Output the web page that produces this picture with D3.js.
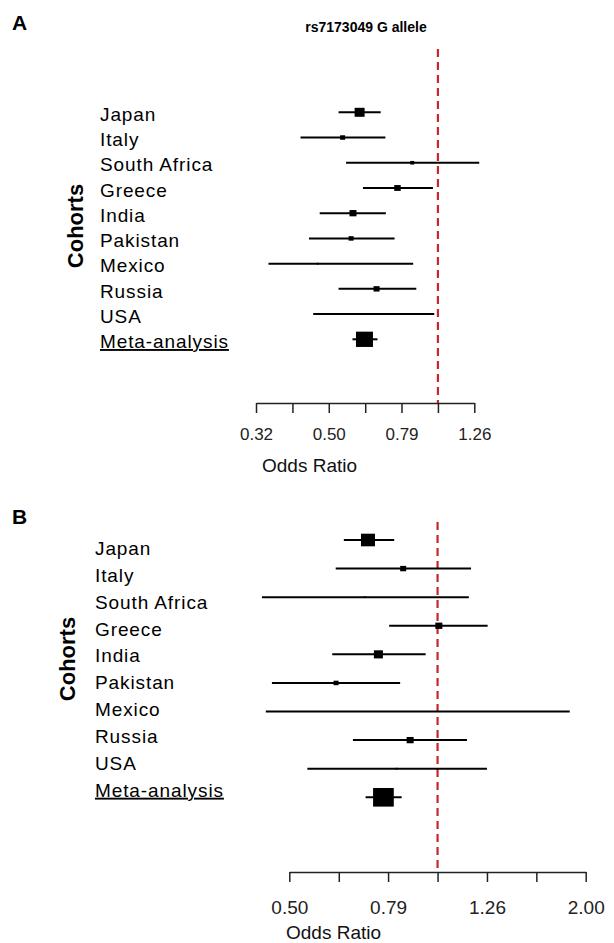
<!DOCTYPE html>
<html>
<head>
<meta charset="utf-8">
<script src="https://cdn.jsdelivr.net/npm/d3@7"></script>
<style>
  body { margin: 0; background: #fff; }
  text { font-family: "Liberation Sans", Arial, sans-serif; }
</style>
</head>
<body>
<div id="root"></div>
<script>
const cohorts = ["Japan", "Italy", "South Africa", "Greece", "India", "Pakistan", "Mexico", "Russia", "USA", "Meta-analysis"];

// panel A: rs7173049 G allele
const orA = [0.609, 0.547, 0.850, 0.774, 0.584, 0.577, 0.467, 0.678, 0.667, 0.628];
const lowerA = [0.533, 0.419, 0.559, 0.622, 0.473, 0.442, 0.342, 0.533, 0.454, 0.582];
const upperA = [0.696, 0.717, 1.299, 0.969, 0.719, 0.760, 0.855, 0.872, 0.977, 0.682];
const weightA = [10, 5, 4, 6.5, 7, 5, 2, 6, 2, 17];
const tickValuesA = [0.316, 0.398, 0.501, 0.631, 0.794, 1, 1.259];
const tickLabelsA = ["0.32", "", "0.50", "", "0.79", "", "1.26"];

// panel B
const orB = [0.723, 0.852, 0.712, 1.006, 0.759, 0.623, 0.912, 0.880, 0.826, 0.777];
const lowerB = [0.646, 0.622, 0.441, 0.798, 0.612, 0.462, 0.449, 0.674, 0.545, 0.715];
const upperB = [0.817, 1.169, 1.157, 1.263, 0.946, 0.840, 1.852, 1.147, 1.259, 0.846];
const weightB = [14, 6, 2, 7, 9, 5, 0, 7, 2, 20.7];
const tickValuesB = [0.501, 0.631, 0.794, 1, 1.259, 1.585, 1.995];
const tickLabelsB = ["0.50", "", "0.79", "", "1.26", "", "2.00"];

class ForestPlot {
  constructor(svg, opts) {
    this.svg = svg;
    this.o = opts;
  }

  initialize() {
    const o = this.o;
    this.rows = cohorts.map((c, i) => ({
      name: c, or: o.or[i], lo: o.lower[i], hi: o.upper[i], w: o.weight[i]
    }));
    this.x = d3.scaleLog()
      .domain([o.tickValues[0], o.tickValues[o.tickValues.length - 1]])
      .range(o.xRange);
    this.y = d3.scalePoint().domain(cohorts).range(o.rowRange);
    this.labelY = d3.scalePoint().domain(cohorts).range(o.labelRange);
    this.g = this.svg.append("g");
  }

  drawText() {
    const o = this.o;
    this.g.append("text")
      .attr("x", 12).attr("y", o.letterY)
      .attr("font-size", 21).attr("font-weight", "bold")
      .text(o.letter);

    this.g.append("text")
      .attr("transform", `translate(${o.cohortsX},${o.cohortsY}) rotate(-90)`)
      .attr("text-anchor", "middle")
      .attr("font-size", 22).attr("font-weight", "bold")
      .text("Cohorts");

    this.g.selectAll(".lab")
      .data(this.rows)
      .enter()
      .append("text")
      .attr("class", "lab")
      .attr("x", o.labelX)
      .attr("y", d => this.labelY(d.name))
      .attr("font-size", 19)
      .attr("letter-spacing", "0.9px")
      .attr("text-decoration", d => d.name === "Meta-analysis" ? "underline" : null)
      .text(d => d.name);
  }

  drawRefLine() {
    const o = this.o;
    this.g.append("line")
      .attr("x1", this.x(1)).attr("x2", this.x(1))
      .attr("y1", o.refTop).attr("y2", o.axisY)
      .attr("stroke", "#c8262d")
      .attr("stroke-width", 2.2)
      .attr("stroke-dasharray", "8,5");
  }

  drawRows() {
    const rowG = this.g.selectAll(".row")
      .data(this.rows)
      .enter()
      .append("g")
      .attr("class", "row");

    rowG.append("line")
      .attr("x1", d => this.x(d.lo))
      .attr("x2", d => this.x(d.hi))
      .attr("y1", d => this.y(d.name))
      .attr("y2", d => this.y(d.name))
      .attr("stroke", "#000")
      .attr("stroke-width", 2);

    rowG.filter(d => d.w > 0)
      .append("rect")
      .attr("x", d => this.x(d.or) - d.w / 2)
      .attr("y", d => this.y(d.name) - d.w * 0.45)
      .attr("width", d => d.w)
      .attr("height", d => d.w * 0.9)
      .attr("fill", "#000");
  }

  drawAxis() {
    const o = this.o;
    const axis = d3.axisBottom(this.x)
      .tickValues(o.tickValues)
      .tickFormat((d, i) => o.tickLabels[i])
      .tickSize(10)
      .tickSizeOuter(0);
    const ag = this.g.append("g")
      .attr("transform", `translate(0,${o.axisY})`)
      .call(axis);
    ag.select(".domain").attr("stroke", "#222").attr("stroke-width", 1.5);
    ag.selectAll(".tick line").attr("stroke", "#222").attr("stroke-width", 1.5);
    ag.selectAll(".tick text")
      .attr("y", o.tickTextY)
      .attr("dy", 0)
      .attr("fill", "#222")
      .attr("font-size", o.tickFont)
      .attr("font-family", "Liberation Sans, Arial, sans-serif");

    this.g.append("text")
      .attr("x", o.xlabX).attr("y", o.xlabY)
      .attr("font-size", 19)
      .attr("fill", "#111")
      .text("Odds Ratio");
  }

  draw() {
    this.initialize();
    this.drawText();
    this.drawRefLine();
    this.drawRows();
    this.drawAxis();
  }
}

const svg = d3.select("#root")
  .append("svg")
  .attr("width", 614)
  .attr("height", 943);

svg.append("text")
  .attr("x", 366).attr("y", 32)
  .attr("text-anchor", "middle")
  .attr("font-size", 14).attr("font-weight", "bold")
  .text("rs7173049 G allele");

new ForestPlot(svg, {
  letter: "A", letterY: 29.5,
  or: orA, lower: lowerA, upper: upperA, weight: weightA,
  tickValues: tickValuesA, tickLabels: tickLabelsA,
  xRange: [256, 474.3], rowRange: [112.3, 339.3], labelRange: [121, 348],
  labelX: 100, cohortsX: 83, cohortsY: 226,
  refTop: 49, axisY: 403, tickTextY: 37, tickFont: 17,
  xlabX: 262, xlabY: 471.5
}).draw();

new ForestPlot(svg, {
  letter: "B", letterY: 523.5,
  or: orB, lower: lowerB, upper: upperB, weight: weightB,
  tickValues: tickValuesB, tickLabels: tickLabelsB,
  xRange: [289.3, 585.7], rowRange: [540, 797.3], labelRange: [555, 796.7],
  labelX: 95, cohortsX: 75, cohortsY: 659,
  refTop: 522, axisY: 872, tickTextY: 42, tickFont: 19,
  xlabX: 286, xlabY: 939
}).draw();
</script>
</body>
</html>
